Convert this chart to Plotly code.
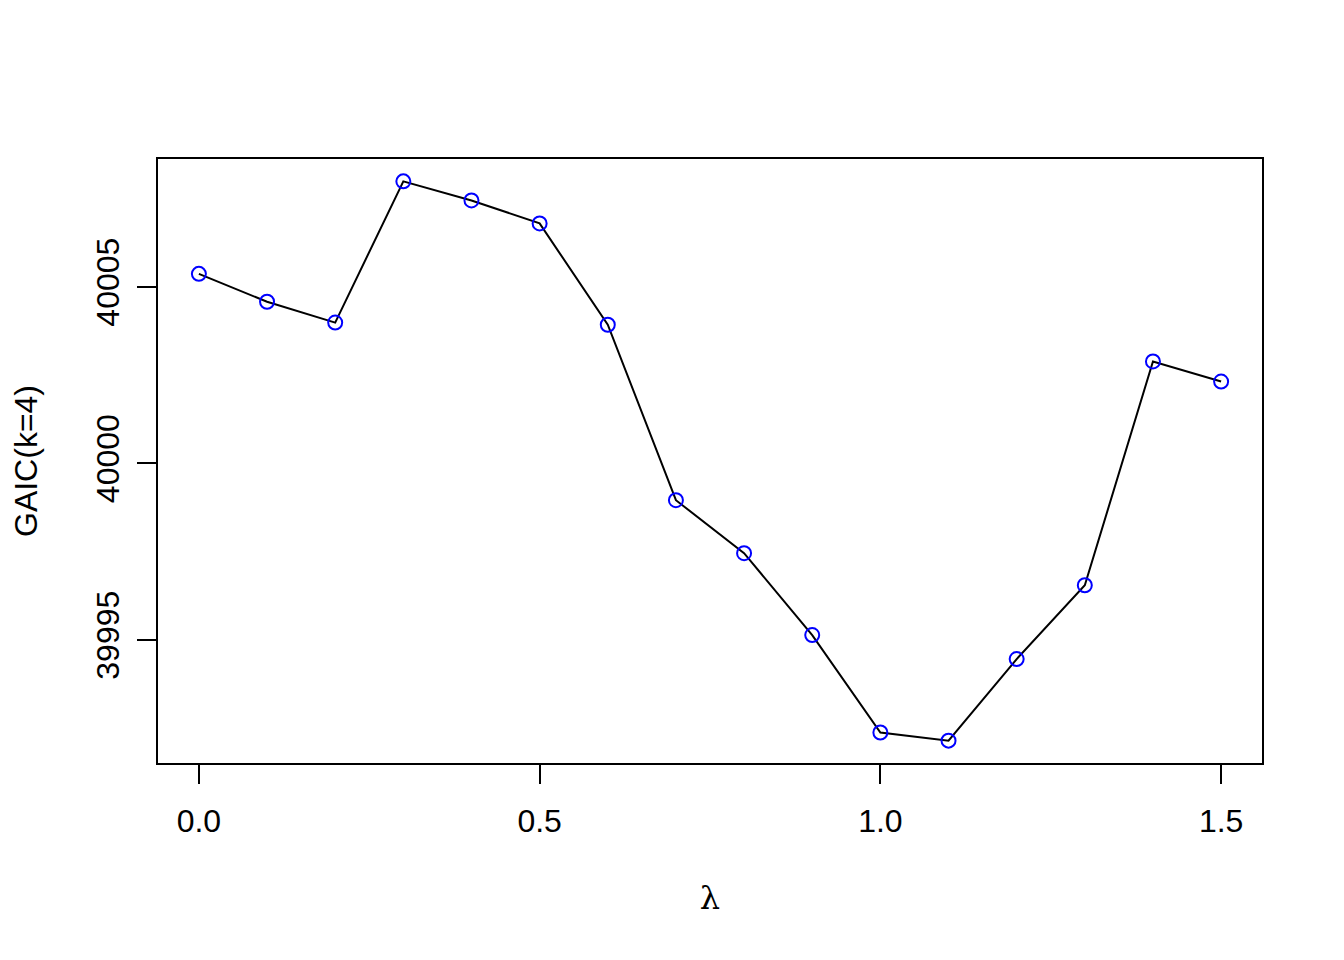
import plotly.graph_objects as go

lam = [0.0, 0.1, 0.2, 0.3, 0.4, 0.5, 0.6, 0.7, 0.8, 0.9, 1.0, 1.1, 1.2, 1.3, 1.4, 1.5]
gaic = [40005.37, 40004.58, 40003.99, 40007.99, 40007.45, 40006.80, 40003.93, 39998.96,
        39997.46, 39995.14, 39992.38, 39992.15, 39994.46, 39996.55, 40002.89, 40002.32]
x_ticks = [0.0, 0.5, 1.0, 1.5]
x_tick_labels = ["0.0", "0.5", "1.0", "1.5"]
y_ticks = [39995, 40000, 40005]
y_tick_labels = ["39995", "40000", "40005"]

font = "Liberation Sans, Arial, Helvetica, sans-serif"

fig = go.Figure()
fig.add_trace(go.Scatter(
    x=lam, y=gaic, mode="lines",
    line=dict(color="black", width=2),
    showlegend=False, hoverinfo="skip"))
fig.add_trace(go.Scatter(
    x=lam, y=gaic, mode="markers",
    marker=dict(symbol="circle-open", size=14, color="blue", line=dict(width=2, color="blue")),
    showlegend=False))

xmin, xmax = min(lam), max(lam)
ymin, ymax = min(gaic), max(gaic)
dx = (xmax - xmin) * 0.04
dy = (ymax - ymin) * 0.04

fig.update_layout(
    width=1344, height=960,
    margin=dict(l=150, r=90, t=151, b=205),
    paper_bgcolor="white", plot_bgcolor="white",
    font=dict(family=font, size=32, color="black"),
    xaxis=dict(
        range=[xmin - dx, xmax + dx],
        tickmode="array", tickvals=x_ticks, ticktext=x_tick_labels,
        ticks="outside", ticklen=19, tickwidth=2, tickcolor="black",
        showline=True, linecolor="black", linewidth=2, mirror=True,
        showgrid=False, zeroline=False,
        ticklabelstandoff=10,
        title=dict(text="λ", font=dict(family="DejaVu Serif, serif", size=32), standoff=48),
    ),
    yaxis=dict(
        range=[ymin - dy, ymax + dy],
        tickmode="array", tickvals=y_ticks, ticktext=y_tick_labels,
        ticks="outside", ticklen=19, tickwidth=2, tickcolor="black",
        showline=True, linecolor="black", linewidth=2, mirror=True,
        showgrid=False, zeroline=False,
        tickangle=-90,
        ticklabelstandoff=5,
        title=dict(text="GAIC(k=4)", font=dict(size=32), standoff=46),
    ),
)

fig.write_html("out.html")
